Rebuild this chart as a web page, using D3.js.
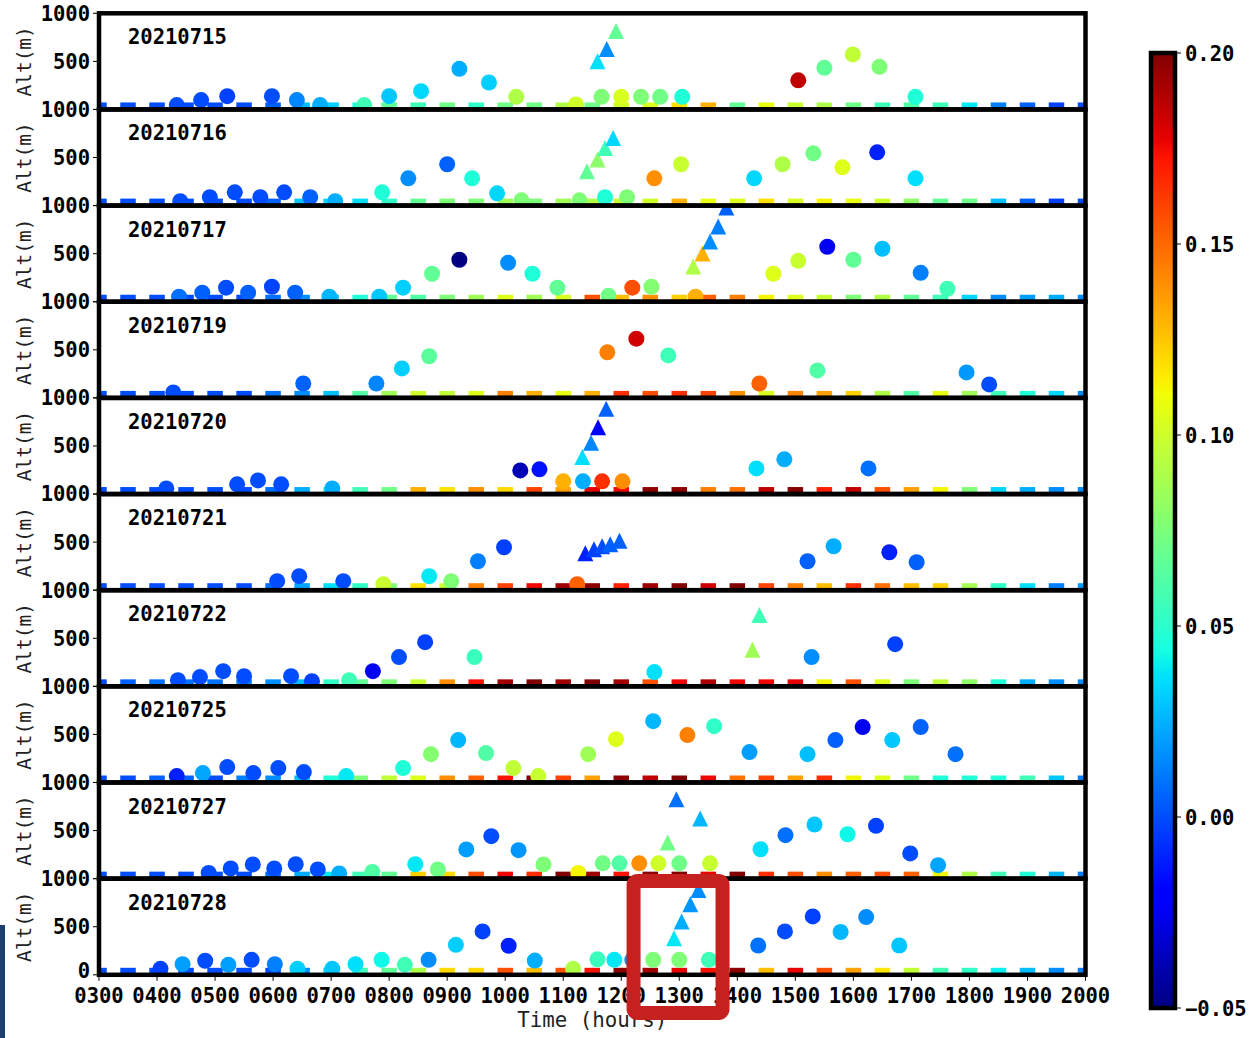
<!DOCTYPE html>
<html><head><meta charset="utf-8">
<script src="https://cdn.jsdelivr.net/npm/d3@7"></script>
<style>
body{margin:0;background:#fff}
svg{display:block}
text{font-family:"DejaVu Sans Mono",monospace}
</style>
</head><body>
<svg id="chart" width="1250" height="1038"></svg>
<script>
// Days shown, one panel each
const dates = ["20210715","20210716","20210717","20210719","20210720",
               "20210721","20210722","20210725","20210727","20210728"];

// Surface stations every half hour, 0300..2000
const groundTimes = d3.range(0, 35).map(i => 3 + i * 0.5);
const groundVals = [
  [0,0,0,0,0,0,0.005,0.028,0.032,0.047,0.067,0.057,0.0715,0.052,0.0715,0.0715,0.091,0.0715,0.10,0.103,0.118,0.131,0.067,0.108,0.098,0.091,0.0715,0.057,0.062,0.057,0.038,0.0125,0.005,-0.003,0],
  [0,0,0,0,0,0,0.005,0.03,0.034,0.036,0.052,0.067,0.076,0.076,0.086,0.076,0.086,0.091,0.098,0.10,0.131,0.108,0.105,0.118,0.103,0.112,0.108,0.10,0.081,0.067,0.0715,0.028,0.005,-0.003,0],
  [0,0,0,0,0,0,0.009,0.016,0.028,0.047,0.067,0.062,0.076,0.086,0.105,0.086,0.103,0.1565,0.127,0.14,0.1225,0.152,0.144,0.112,0.105,0.098,0.076,0.091,0.067,0.057,0.034,0.016,0.020,0.024,0.016],
  [0,0,0,0,0,0,0.009,0.016,0.028,0.062,0.086,0.10,0.096,0.105,0.144,0.131,0.108,0.131,0.165,0.1565,0.165,0.16,0.14,0.103,0.142,0.135,0.1225,0.091,0.062,0.108,0.086,0.057,0.047,0.034,0.016],
  [0,0,0,0,0,0,0.009,0.024,0.047,0.057,0.0715,0.131,0.118,0.14,0.12,0.16,0.135,0.178,0.176,0.197,0.197,0.144,0.1475,0.186,0.20,0.169,0.186,0.1565,0.135,0.112,0.076,0.034,0.024,0.016,0.016],
  [0,0,0,0,0,0,0.009,0.022,0.036,0.052,0.076,0.118,0.098,0.144,0.16,0.176,0.193,0.197,0.169,0.193,0.20,0.183,0.20,0.16,0.144,0.127,0.165,0.1475,0.127,0.1225,0.088,0.052,0.036,0.0125,0.02],
  [0,0.005,0.009,0.009,0.009,0.0125,0.016,0.028,0.052,0.067,0.076,0.098,0.14,0.173,0.193,0.20,0.193,0.20,0.193,0.1565,0.176,0.19,0.176,0.176,0.178,0.112,0.1565,0.105,0.076,0.096,0.081,0.047,0.024,0.016,0.016],
  [0,0,0.005,0.005,0,0.0125,0.016,0.028,0.047,0.076,0.096,0.105,0.14,0.152,0.173,0.20,0.16,0.135,0.197,0.186,0.20,0.176,0.1475,0.16,0.135,0.165,0.112,0.105,0.0715,0.047,0.047,0.047,0.057,0.03,0.0125],
  [0,0,0,0,0,0,0.009,0.024,0.038,0.057,0.067,0.1225,0.12,0.1565,0.176,0.165,0.20,0.193,0.173,0.197,0.20,0.178,0.20,0.165,0.1565,0.14,0.152,0.1565,0.152,0.112,0.091,0.057,0.047,0.026,0.0125],
  [0,0,0,0,0,0,0,0.016,0.034,0.057,0.067,0.091,0.12,0.12,0.1565,0.127,0.1565,0.173,0.197,0.193,0.178,0.173,0.197,0.127,0.178,0.1565,0.135,0.116,0.096,0.057,0.052,0.040,0.028,0.016,0.0125]
];

// Elevated points: [hour, altitude (m), value]
const circlePts = [
  [[4.34,45,0],[4.76,97,0],[5.21,138,-0.003],[5.98,138,0],[6.41,97,0.014],[6.81,45,0.024],[7.57,45,0.057],[8.0,138,0.03],[8.55,190,0.034],[9.21,422,0.024],[9.72,280,0.032],[10.19,131,0.091],[11.22,52,0.10],[11.66,131,0.076],[12.0,131,0.103],[12.34,131,0.076],[12.67,131,0.0715],[13.05,131,0.047],[15.05,303,0.186],[15.5,433,0.067],[15.99,572,0.096],[16.45,443,0.076],[17.07,131,0.047]],
  [[4.40,45,0],[4.91,88,0],[5.34,138,0],[5.78,88,0],[6.19,138,0],[6.64,88,0.005],[7.07,45,0.024],[7.88,138,0.047],[8.33,284,0.016],[9.0,430,0.005],[9.43,284,0.047],[9.86,128,0.034],[10.28,55,0.076],[11.28,55,0.076],[11.72,88,0.047],[12.10,88,0.076],[12.57,284,0.14],[13.03,430,0.098],[14.29,284,0.034],[14.78,430,0.091],[15.31,544,0.0715],[15.81,398,0.105],[16.41,554,-0.011],[17.07,284,0.036]],
  [[4.38,52,0.009],[4.78,94,0.005],[5.19,146,0],[5.57,94,0.005],[5.98,156,-0.002],[6.38,94,0.005],[6.97,52,0.026],[7.83,52,0.03],[8.24,146,0.032],[8.74,291,0.067],[9.21,437,-0.05],[10.05,405,0.016],[10.47,291,0.047],[10.90,146,0.067],[11.78,62,0.0715],[12.19,146,0.1565],[12.52,156,0.078],[13.28,52,0.131],[14.62,291,0.105],[15.05,426,0.098],[15.55,572,-0.025],[16.0,437,0.067],[16.50,551,0.028],[17.16,301,0.0125],[17.62,135,0.057]],
  [[4.28,57,0],[6.52,150,0.005],[7.78,150,0.014],[8.22,307,0.032],[8.69,433,0.065],[11.76,474,0.144],[12.26,616,0.183],[12.81,442,0.057],[14.38,150,0.152],[15.38,286,0.062],[17.95,265,0.019],[18.34,140,0]],
  [[4.16,59,0],[5.38,101,0],[5.74,142,0],[6.14,101,0],[7.02,59,0.024],[10.26,246,-0.038],[10.59,257,-0.015],[11.0,132,0.131],[11.34,132,0.024],[11.67,132,0.165],[12.02,132,0.14],[14.33,267,0.036],[14.81,361,0.024],[16.26,267,0.009]],
  [[6.07,94,0],[6.45,146,0],[7.21,94,0],[7.90,62,0.098],[8.69,146,0.038],[9.07,94,0.076],[9.53,301,0.0125],[9.98,447,-0.003],[11.24,62,0.152],[15.21,301,0.005],[15.66,457,0.024],[16.62,395,-0.011],[17.09,291,0.005]],
  [[4.36,64,0],[4.74,96,0],[5.14,158,0],[5.50,106,0],[6.31,106,0],[6.67,54,-0.003],[7.31,64,0.057],[7.72,158,-0.025],[8.17,304,0],[8.62,459,-0.003],[9.47,304,0.055],[12.57,148,0.036],[15.28,304,0.016],[16.72,439,-0.003]],
  [[4.34,67,-0.011],[4.79,98,0.022],[5.21,160,0],[5.66,98,0],[6.09,150,0],[6.53,108,0],[7.26,67,0.038],[8.24,150,0.047],[8.72,295,0.078],[9.19,441,0.026],[9.67,306,0.062],[10.14,150,0.096],[10.57,67,0.098],[11.43,295,0.086],[11.91,451,0.105],[12.55,638,0.026],[13.14,493,0.144],[13.60,586,0.052],[14.21,316,0.020],[15.21,295,0.028],[15.69,441,0.005],[16.16,576,-0.025],[16.67,441,0.03],[17.16,576,0.005],[17.76,295,0.009]],
  [[4.89,60,0],[5.27,106,0],[5.65,148,0],[6.02,106,0],[6.39,150,0],[6.77,96,0],[7.14,54,0.024],[7.71,70,0.062],[8.45,150,0.038],[8.84,96,0.0715],[9.33,304,0.020],[9.76,442,0],[10.23,296,0.018],[10.66,148,0.076],[11.26,60,0.112],[11.68,159,0.072],[11.97,159,0.062],[12.31,159,0.14],[12.64,159,0.10],[13.0,159,0.0715],[13.53,159,0.098],[14.40,306,0.036],[14.83,452,0.009],[15.33,563,0.03],[15.90,462,0.042],[16.39,549,-0.003],[16.98,262,0],[17.46,140,0.022]],
  [[4.06,62,-0.003],[4.44,111,0.020],[4.83,146,0],[5.23,104,0.020],[5.63,156,0],[6.03,111,0.0125],[6.42,62,0.032],[7.02,62,0.03],[7.42,111,0.036],[7.87,156,0.042],[8.27,104,0.057],[8.68,156,0.016],[9.15,312,0.032],[9.61,451,-0.003],[10.06,302,-0.011],[10.51,148,0.024],[11.17,62,0.091],[11.59,162,0.055],[11.88,156,0.038],[12.19,156,0.016],[12.55,156,0.076],[13.0,156,0.076],[13.51,156,0.057],[14.36,305,0.009],[14.82,451,0],[15.30,607,-0.003],[15.78,445,0.026],[16.22,600,0.016],[16.79,305,0.03]]
];

// Profile soundings: [hour, altitude (m), value]
const trianglePts = [
  [[11.59,502,0.036],[11.75,630,0.016],[11.91,815,0.067]],
  [[11.41,357,0.067],[11.59,480,0.08],[11.72,599,0.057],[11.86,703,0.034]],
  [[13.24,367,0.091],[13.40,502,0.131],[13.53,627,0.016],[13.67,783,0.0125],[13.81,980,0.005]],
  [],
  [[11.33,385,0.036],[11.48,534,0.014],[11.60,696,-0.022],[11.74,888,0.005]],
  [[11.38,385,-0.011],[11.53,426,-0.003],[11.67,457,0],[11.81,478,0.005],[11.97,515,0.005]],
  [[14.26,380,0.086],[14.38,743,0.057]],
  [],
  [[12.80,376,0.0715],[12.95,826,0.009],[13.36,626,0.026]],
  [[12.91,381,0.038],[13.04,554,0.024],[13.19,734,0.018],[13.33,883,0.016]]
];

const xTicks = d3.range(3, 21);
const xTickLabels = ["0300","0400","0500","0600","0700","0800","0900","1000","1100",
                     "1200","1300","1400","1500","1600","1700","1800","1900","2000"];
const cbTicks = [-0.05, 0.00, 0.05, 0.10, 0.15, 0.20];
const cbTickLabels = ["\u22120.05","0.00","0.05","0.10","0.15","0.20"];

// ---- layout ----
const svg = d3.select("#chart");
const plotL = 99, plotR = 1085.5, top0 = 13.3, panelH = 96.15;
const nP = dates.length;
const x = d3.scaleLinear().domain([3, 20]).range([plotL, plotR]);

// matplotlib "jet" as piecewise-linear channel scales
const jR = d3.scaleLinear().domain([0,0.35,0.66,0.89,1]).range([0,0,1,1,0.5]).clamp(true);
const jG = d3.scaleLinear().domain([0,0.125,0.375,0.64,0.91,1]).range([0,0,1,1,0,0]).clamp(true);
const jB = d3.scaleLinear().domain([0,0.11,0.34,0.65,1]).range([0.5,1,1,0,0]).clamp(true);
const norm = d3.scaleLinear().domain([-0.05, 0.20]).range([0, 1]).clamp(true);
const jet = t => d3.rgb(255*jR(t), 255*jG(t), 255*jB(t)).formatHex();
const color = v => jet(norm(v));

const defs = svg.append("defs");

dates.forEach((d, i) => {
  const top = top0 + i * panelH, bot = top + panelH;
  const y = d3.scaleLinear().domain([0, 1000]).range([bot, top]);
  const clipId = "clip" + i;
  defs.append("clipPath").attr("id", clipId)
    .append("rect").attr("x", plotL).attr("y", top).attr("width", plotR - plotL).attr("height", panelH);

  const g = svg.append("g");
  const inner = g.append("g").attr("clip-path", `url(#${clipId})`);

  // surface squares along the ground
  inner.selectAll("rect.gnd").data(groundTimes.map((t, k) => [t, groundVals[i][k]]))
    .join("rect").attr("class", "gnd")
    .attr("x", p => x(p[0]) - 7.75).attr("y", y(0) - 7)
    .attr("width", 15.5).attr("height", 14)
    .attr("fill", p => color(p[1]));

  inner.selectAll("circle").data(circlePts[i]).join("circle")
    .attr("cx", p => x(p[0])).attr("cy", p => y(p[1])).attr("r", 8)
    .attr("fill", p => color(p[2]));

  inner.selectAll("path.tri").data(trianglePts[i]).join("path").attr("class", "tri")
    .attr("d", p => {
      const cx = x(p[0]), cy = y(p[1]), s = 8;
      return `M${cx},${cy - s}L${cx + s},${cy + s}L${cx - s},${cy + s}Z`;
    })
    .attr("fill", p => color(p[2]));

  // y ticks
  [0, 500, 1000].forEach(v => {
    g.append("line").attr("x1", plotL - 6).attr("x2", plotL).attr("y1", y(v)).attr("y2", y(v))
      .attr("stroke", "#000").attr("stroke-width", 1);
  });
  [500, 1000].forEach(v => {
    g.append("text").attr("x", 90).attr("y", y(v)).attr("dy", "0.36em")
      .attr("text-anchor", "end").attr("font-size", 20.5).attr("font-weight", "bold")
      .text(v);
  });
  if (i === nP - 1) {
    g.append("text").attr("x", 90).attr("y", 977.5)
      .attr("text-anchor", "end").attr("font-size", 20.5).attr("font-weight", "bold")
      .text(0);
  }

  g.append("text").attr("transform", `translate(31,${(top + bot) / 2}) rotate(-90)`)
    .attr("text-anchor", "middle").attr("font-size", 19.5).attr("fill", "#222")
    .text("Alt(m)");

  g.append("text").attr("x", 128).attr("y", top + 31)
    .attr("font-size", 20.5).attr("font-weight", "bold").text(d);

  g.append("rect").attr("x", plotL).attr("y", top).attr("width", plotR - plotL).attr("height", panelH)
    .attr("fill", "none").attr("stroke", "#000").attr("stroke-width", 4.5);
});

// x axis of the bottom panel
const bottomY = top0 + nP * panelH;
const xg = svg.append("g");
xTicks.forEach((h, k) => {
  xg.append("line").attr("x1", x(h)).attr("x2", x(h)).attr("y1", bottomY).attr("y2", bottomY + 6)
    .attr("stroke", "#000").attr("stroke-width", 1);
  xg.append("text").attr("x", x(h)).attr("y", 1002.5).attr("text-anchor", "middle")
    .attr("font-size", 20.5).attr("font-weight", "bold").text(xTickLabels[k]);
});
xg.append("text").attr("x", (plotL + plotR) / 2).attr("y", 1027).attr("text-anchor", "middle")
  .attr("font-size", 20.8).attr("fill", "#222").text("Time (hours)");

// colour bar
const cbX = 1151, cbW = 24, cbTop = 53, cbBot = 1008;
const cbScale = d3.scaleLinear().domain([-0.05, 0.20]).range([cbBot, cbTop]);
const grad = defs.append("linearGradient").attr("id", "jetGrad")
  .attr("x1", 0).attr("y1", 1).attr("x2", 0).attr("y2", 0);
[0,0.11,0.125,0.34,0.35,0.375,0.64,0.65,0.66,0.89,0.91,1].forEach(t => {
  grad.append("stop").attr("offset", t).attr("stop-color", jet(t));
});
svg.append("rect").attr("x", cbX).attr("y", cbTop).attr("width", cbW).attr("height", cbBot - cbTop)
  .attr("fill", "url(#jetGrad)").attr("stroke", "#000").attr("stroke-width", 4.5);
cbTicks.forEach((v, k) => {
  svg.append("line").attr("x1", cbX + cbW).attr("x2", cbX + cbW + 6)
    .attr("y1", cbScale(v)).attr("y2", cbScale(v)).attr("stroke", "#000").attr("stroke-width", 1);
  svg.append("text").attr("x", cbX + cbW + 10).attr("y", cbScale(v) + 1).attr("dy", "0.36em")
    .attr("font-size", 20.5).attr("font-weight", "bold").text(cbTickLabels[k]);
});

// highlight frame around the 1300 profile
svg.append("rect").attr("x", x(12.97) - 44).attr("y", 881).attr("width", 89).attr("height", 132)
  .attr("rx", 4).attr("fill", "none").attr("stroke", "#c5221f").attr("stroke-width", 14);

// edge strip at lower left
svg.append("rect").attr("x", 0).attr("y", 925).attr("width", 5).attr("height", 113).attr("fill", "#1d3f6e");
</script>
</body></html>
